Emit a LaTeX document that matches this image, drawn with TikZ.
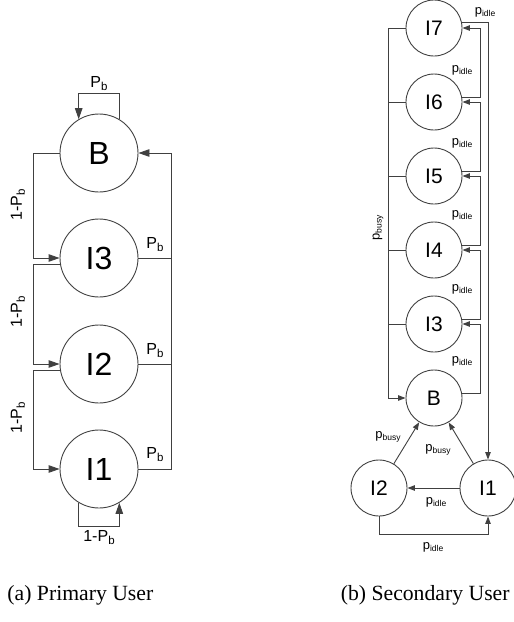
\documentclass[tikz,border=0pt]{standalone}
\usepackage{fontspec}
\setmainfont{Liberation Serif}
\newfontfamily\arialf{Liberation Sans}
\usetikzlibrary{arrows.meta}
\newcommand\Pb{P\raisebox{-3pt}{\fontsize{11.5}{11.5}\selectfont b}}
\newcommand\pidle{p\raisebox{-2pt}{\fontsize{8.5}{8.5}\selectfont idle}}
\newcommand\pbusy{p\raisebox{-2pt}{\fontsize{8.5}{8.5}\selectfont busy}}
\begin{document}
\begin{tikzpicture}[x=1pt,y=-1pt,line width=0.9pt,
  ln/.style={draw=black!75},
  bigstate/.style={circle,draw=black!75,minimum size=78pt,inner sep=0pt,font=\arialf\fontsize{32}{32}\selectfont},
  smallstate/.style={circle,draw=black!75,minimum size=56pt,inner sep=0pt,font=\arialf\fontsize{21}{21}\selectfont},
  edge/.style={ln,-{Triangle[length=11pt,width=7.5pt]}},
  sedge/.style={ln,-{Triangle[length=7.5pt,width=5.5pt]}},
  lbl/.style={font=\arialf\fontsize{16}{16}\selectfont,inner sep=0pt},
  slbl/.style={font=\arialf\fontsize{13}{13}\selectfont,inner sep=0pt},
  captxt/.style={font=\fontsize{21.7}{21.7}\selectfont,inner sep=0pt}]
\useasboundingbox (0,0) rectangle (514,622);
% ---------- (a) primary user ----------
\node[bigstate] (B) at (99,153) {B};
\node[bigstate] (L3) at (99,258) {I3};
\node[bigstate] (L2) at (99,364) {I2};
\node[bigstate] (L1) at (99,469) {I1};
\coordinate (lx) at (33,0);
\coordinate (rx) at (171,0);
% self loops
\draw[edge] (B.59) -- ++(0,-26) -| (B.121);
\node[lbl] (pb0) at (99,84) {\Pb};
\draw[edge] (L1.239) -- ++(0,24) -| (L1.301);
\node[lbl] (pb1) at (99,538) {1-\Pb};
% left chain
\draw[edge] (B.west) -- (B.west -| lx) |- (L3.west);
\draw[edge] (L3.190) -- (L3.190 -| lx) |- (L2.west);
\draw[edge] (L2.190) -- (L2.190 -| lx) |- (L1.west);
\node[lbl,rotate=90] (q1) at (18,205) {1-\Pb};
\node[lbl,rotate=90] (q2) at (18,312) {1-\Pb};
\node[lbl,rotate=90] (q3) at (18,418) {1-\Pb};
% right bus
\draw[edge] (L1.east) -- (L1.east -| rx) |- (B.east);
\draw[ln] (L2.east) -- (L2.east -| rx);
\draw[ln] (L3.east) -- (L3.east -| rx);
\node[lbl] (r3) at (155,245) {\Pb};
\node[lbl] (r2) at (155,351) {\Pb};
\node[lbl] (r1) at (155,455) {\Pb};
% ---------- (b) secondary user ----------
\node[smallstate] (R7) at (434,28) {I7};
\node[smallstate] (R6) at (434,102) {I6};
\node[smallstate] (R5) at (434,176) {I5};
\node[smallstate] (R4) at (434,250) {I4};
\node[smallstate] (R3) at (434,324) {I3};
\node[smallstate] (RB) at (434,398) {B};
\node[smallstate] (R2) at (379,488) {I2};
\node[smallstate] (R1) at (488,488) {I1};
\coordinate (bx) at (388,0);
\coordinate (cx) at (480,0);
% busy bus
\draw[sedge] (R7.west) -- (R7.west -| bx) |- (RB.west);
\foreach \n in {R6,R5,R4,R3} \draw[ln] (\n.west) -- (\n.west -| bx);
\node[slbl,rotate=90] (pbu) at (378,228) {\pbusy};
% idle chain
\draw[sedge] (RB.10) -- (RB.10 -| cx) |- (R3.east);
\draw[sedge] (R3.10) -- (R3.10 -| cx) |- (R4.east);
\draw[sedge] (R4.10) -- (R4.10 -| cx) |- (R5.east);
\draw[sedge] (R5.10) -- (R5.10 -| cx) |- (R6.east);
\draw[sedge] (R6.10) -- (R6.10 -| cx) |- (R7.east);
\node[slbl] (i1) at (462,70) {\pidle};
\node[slbl] (i2) at (462,143) {\pidle};
\node[slbl] (i3) at (462,215) {\pidle};
\node[slbl] (i4) at (462,289) {\pidle};
\node[slbl] (i5) at (462,361) {\pidle};
\draw[sedge] (R7.12) -| (R1.north);
\node[slbl] (i0) at (485,12) {\pidle};
% bottom triangle
\draw[sedge] (R1) -- (RB);
\draw[sedge] (R2) -- (RB);
\draw[sedge] (R1) -- (R2);
\draw[sedge] (R2.south) -- ++(0,18) -| (R1.south);
\node[slbl] (b1) at (388,437) {\pbusy};
\node[slbl] (b2) at (438,450) {\pbusy};
\node[slbl] (i6) at (436,502) {\pidle};
\node[slbl] (i7) at (433,547) {\pidle};
% captions
\node[captxt,anchor=west] (ca) at (7,595) {(a) Primary User};
\node[captxt,anchor=east] (cb) at (510,595) {(b) Secondary User};
\end{tikzpicture}
\end{document}
